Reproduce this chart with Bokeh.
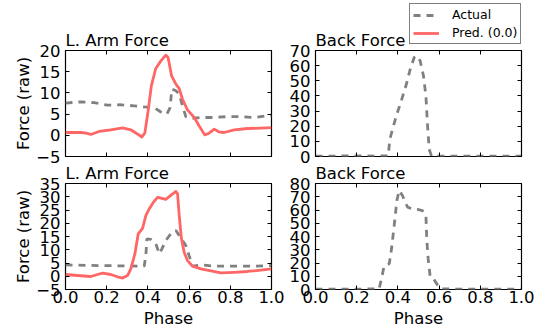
from bokeh.plotting import figure
from bokeh.models import (Range1d, FixedTicker, LinearAxis, CustomJSTickFormatter,
                          Legend, LegendItem)
from bokeh.layouts import column, row
from bokeh.embed import file_html
from bokeh.resources import INLINE

# ---------------- data ----------------
phase_ticks = [0.0, 0.2, 0.4, 0.6, 0.8, 1.0]

arm1_actual_x = [0.0, 0.074, 0.139, 0.204, 0.269, 0.333, 0.382, 0.43, 0.463, 0.492, 0.508, 0.516,
                 0.536, 0.552, 0.568, 0.584, 0.608, 0.657, 0.722, 0.786, 0.851, 0.916, 1.0]
arm1_actual_y = [7.6, 7.9, 7.7, 7.1, 7.2, 6.95, 6.7, 6.55, 5.5, 5.0, 6.55, 10.9,
                 10.5, 9.7, 6.95, 4.4, 3.96, 4.2, 4.2, 4.4, 4.4, 4.2, 4.75]
arm1_pred_x = [0.0, 0.074, 0.10, 0.123, 0.163, 0.22, 0.277, 0.317, 0.353, 0.37, 0.385, 0.40, 0.417,
               0.438, 0.463, 0.487, 0.498, 0.515, 0.536, 0.552, 0.568, 0.592, 0.625, 0.649, 0.676,
               0.697, 0.722, 0.746, 0.77, 0.819, 0.883, 0.948, 1.0]
arm1_pred_y = [0.66, 0.66, 0.5, 0.2, 0.9, 1.3, 1.76, 1.3, 0.2, -0.4, 0.5, 5.4, 11.7,
               15.75, 17.56, 18.9, 18.35, 14.0, 12.06, 11.0, 8.5, 6.0, 4.2, 2.2, 0.1,
               0.5, 1.45, 0.8, 0.66, 1.3, 1.6, 1.7, 1.8]

back1_actual_x = [0.0, 0.1, 0.2, 0.3, 0.353, 0.361, 0.374, 0.395, 0.414, 0.439, 0.46, 0.479, 0.492,
                  0.508, 0.524, 0.536, 0.544, 0.552, 0.563, 0.6, 0.7, 0.8, 0.9, 1.0]
back1_actual_y = [0.3, 0.3, 0.4, 0.3, 0.4, 11.4, 18.0, 28.0, 35.7, 46.7, 57.7, 65.4, 66.5,
                  63.2, 53.3, 40.0, 20.3, 4.8, 0.4, 0.3, 0.3, 0.3, 0.3, 0.3]

arm2_actual_x = [0.0, 0.1, 0.2, 0.3, 0.382, 0.39, 0.395, 0.414, 0.439, 0.455, 0.468, 0.487, 0.511,
                 0.536, 0.557, 0.584, 0.6, 0.617, 0.657, 0.722, 0.819, 0.916, 1.0]
arm2_actual_y = [4.3, 4.1, 4.0, 3.9, 3.8, 7.8, 14.1, 13.9, 12.2, 8.5, 10.3, 13.5, 16.0,
                 17.3, 14.75, 11.6, 7.8, 3.8, 4.3, 3.8, 3.8, 3.8, 4.06]
arm2_pred_x = [0.0, 0.058, 0.123, 0.155, 0.18, 0.22, 0.252, 0.277, 0.301, 0.317, 0.337, 0.353,
               0.374, 0.39, 0.406, 0.427, 0.447, 0.463, 0.487, 0.511, 0.536, 0.544, 0.552, 0.563,
               0.576, 0.592, 0.617, 0.657, 0.706, 0.754, 0.819, 0.883, 0.948, 1.0]
arm2_pred_y = [0.66, 0.28, -0.1, 0.66, 1.16, 0.66, -0.2, -0.7, 0.28, 2.8, 8.5, 16.0,
               18.1, 22.9, 25.4, 27.96, 29.8, 29.5, 29.0, 30.5, 32.0, 31.1, 22.9, 14.1,
               9.1, 5.9, 3.8, 2.8, 2.0, 1.3, 1.5, 1.8, 2.3, 2.8]

back2_actual_x = [0.0, 0.1, 0.2, 0.309, 0.32, 0.333, 0.358, 0.369, 0.382, 0.395, 0.406, 0.422,
                  0.447, 0.471, 0.495, 0.519, 0.536, 0.54, 0.547, 0.557, 0.573, 0.592, 0.608,
                  0.7, 0.8, 0.9, 1.0]
back2_actual_y = [0.3, 0.3, 0.3, 0.5, 8.0, 17.6, 19.4, 30.7, 48.3, 67.2, 74.7, 70.9,
                  62.1, 60.9, 60.4, 59.6, 55.8, 38.2, 23.1, 9.3, 8.0, 3.5, 0.5,
                  0.3, 0.3, 0.3, 0.3]

arm1_yticks = [-5, 0, 5, 10, 15, 20]
back1_yticks = [0, 10, 20, 30, 40, 50, 60, 70]
arm2_yticks = [-5, 0, 5, 10, 15, 20, 25, 30, 35]
back2_yticks = [0, 10, 20, 30, 40, 50, 60, 70, 80]

titles = ["L. Arm Force", "Back Force"]
legend_labels = ["Actual", "Pred. (0.0)"]

# ---------------- style ----------------
FONT = "DejaVu Sans"
FS = "16.5px"
GRAY = "#808080"
RED = "#ff6666"
DASH = "7 6"

yfmt = "return (tick < 0 ? '\u2212' : '') + Math.abs(tick).toFixed(0);"
xfmt = "return tick.toFixed(1);"


def make_fig(title, yticks, show_x, show_ylabel, left, right, top, bottom):
    p = figure(frame_width=206, frame_height=106, output_backend="svg", toolbar_location=None,
               x_range=Range1d(0, 1), y_range=Range1d(yticks[0], yticks[-1]),
               min_border_left=left, min_border_right=right, min_border_top=top,
               min_border_bottom=bottom, x_axis_type=None, y_axis_type=None)
    p.title.text = title
    p.title.text_font = FONT
    p.title.text_font_size = FS
    p.title.text_font_style = "normal"
    p.title.text_color = "black"
    p.title.align = "left"
    p.title.standoff = 2
    p.grid.visible = False
    p.outline_line_color = "black"
    p.outline_line_width = 1.2
    p.background_fill_color = "white"
    p.border_fill_alpha = 0

    def ax(kind, loc, labels):
        t = FixedTicker(ticks=phase_ticks if kind == "x" else yticks)
        a = LinearAxis(ticker=t,
                       formatter=CustomJSTickFormatter(code=xfmt if kind == "x" else yfmt))
        a.axis_line_color = None
        a.major_tick_in = 4
        a.major_tick_out = 0
        a.major_tick_line_color = "black"
        a.major_tick_line_width = 1
        a.minor_tick_line_color = None
        a.major_label_text_font = FONT
        a.major_label_text_color = "black"
        if labels:
            a.major_label_text_font_size = FS
            a.major_label_standoff = 1 if kind == "x" else 5
        else:
            a.major_label_text_font_size = "0px"
            a.major_label_standoff = 0
        a.axis_label_text_font = FONT
        a.axis_label_text_font_size = FS
        a.axis_label_text_font_style = "normal"
        a.axis_label_text_color = "black"
        p.add_layout(a, loc)
        return a

    xa = ax("x", "below", show_x)
    if show_x:
        xa.axis_label = "Phase"
        xa.axis_label_standoff = 3
    ya = ax("y", "left", True)
    if show_ylabel:
        ya.axis_label = "Force (raw)"
        ya.axis_label_standoff = 0
    ax("x", "above", False)
    ax("y", "right", False)
    return p


tl = make_fig(titles[0], arm1_yticks, False, True, 65, 15, 50, 12)
tr = make_fig(titles[1], back1_yticks, False, False, 27, 16, 50, 12)
bl = make_fig(titles[0], arm2_yticks, True, True, 65, 15, 23, 40)
br = make_fig(titles[1], back2_yticks, True, False, 27, 16, 23, 40)

line_kw_a = dict(line_color=GRAY, line_width=2.8, line_dash=DASH)
line_kw_p = dict(line_color=RED, line_width=2.8, line_join="round")

tl.line(arm1_actual_x, arm1_actual_y, **line_kw_a)
tl.line(arm1_pred_x, arm1_pred_y, **line_kw_p)
tr.line(back1_actual_x, back1_actual_y, **line_kw_a)
bl.line(arm2_actual_x, arm2_actual_y, **line_kw_a)
bl.line(arm2_pred_x, arm2_pred_y, **line_kw_p)
br.line(back2_actual_x, back2_actual_y, **line_kw_a)

# legend: a transparent overlay figure above the top-right panel (same frame columns)
lg = figure(frame_width=206, frame_height=44, output_backend="svg", toolbar_location=None,
            x_range=Range1d(0, 1), y_range=Range1d(-100, -99),
            min_border_left=27, min_border_right=16, min_border_top=3, min_border_bottom=3,
            x_axis_type=None, y_axis_type=None)
lg.title = None
lg.outline_line_color = None
lg.background_fill_alpha = 0
lg.border_fill_alpha = 0
ra = lg.line(back1_actual_x, back1_actual_y, visible=False, **line_kw_a)
rp = lg.line(arm1_pred_x, arm1_pred_y, visible=False, **line_kw_p)

leg = Legend(items=[LegendItem(label=legend_labels[0], renderers=[ra]),
                    LegendItem(label=legend_labels[1], renderers=[rp])],
             location=(94, 3))
leg.label_text_font = FONT
leg.label_text_font_size = "12.5px"
leg.label_text_color = "black"
leg.glyph_width = 26
leg.glyph_height = 14
leg.label_height = 14
leg.label_standoff = 13
leg.padding = 3
leg.spacing = 3
leg.margin = 0
leg.border_line_color = "black"
leg.border_line_width = 1
leg.background_fill_color = "white"
leg.background_fill_alpha = 1
lg.add_layout(leg, "center")

tr.margin = (-50, 0, 0, 0)

layout = column(row(tl, column(lg, tr)), row(bl, br, margin=(-8, 0, 0, 0)))

open("out.html", "w").write(file_html(layout, INLINE))
